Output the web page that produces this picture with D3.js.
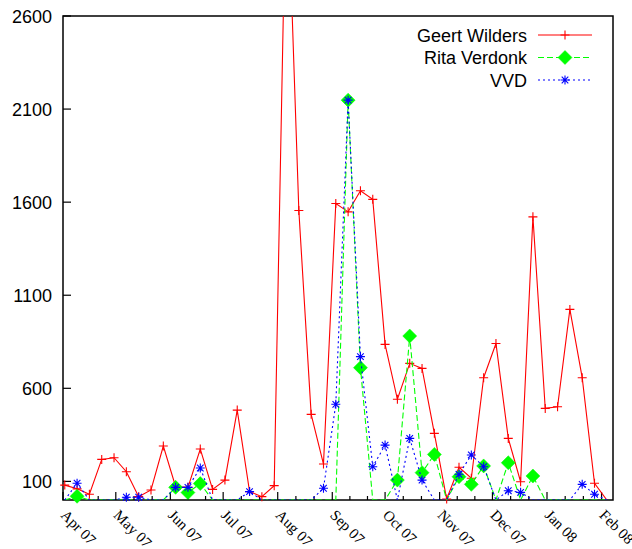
<!DOCTYPE html>
<html lang="en">
<head>
<meta charset="UTF-8">
<title>Geert Wilders / Rita Verdonk / VVD</title>
<script src="https://d3js.org/d3.v7.min.js"></script>
<style>
  body { margin: 0; background: #fff; }
  svg { display: block; }
</style>
</head>
<body>
<div id="chart"></div>
<script>
// weekly series, first week starts Mon 2 Apr 2007
const firstWeek = new Date(2007, 3, 2);
const wilders = [80, 60, 31, 218, 227, 152, 18, 54, 290, 71, 68, 274, 57, 107, 483, 45, 18, 77, 3500, 1555,
  460, 193, 1593, 1548, 1661, 1615, 836, 541, 734, 707, 358, 5, 176, 117, 657, 841, 331, 98, 1521, 492,
  501, 1024, 657, 90, 0];
const verdonk = [0, 20, 0, 0, 0, 0, 0, 0, 0, 68, 40, 88, 0, 0, 0, 0, 0, 0, 0, 0,
  0, 0, 0, 2148, 711, 0, 0, 107, 881, 147, 245, 0, 125, 84, 183, 0, 200, 0, 129, 0,
  0, 0, 0, 0, 0];
const vvd = [0, 90, 0, 0, 0, 15, 15, 0, 0, 68, 68, 172, 0, 0, 0, 45, 0, 0, 0, 0,
  0, 63, 514, 2148, 770, 179, 295, 0, 331, 107, 0, 0, 138, 242, 179, 0, 50, 41, 0, 0,
  0, 0, 84, 31, 0];
const seriesNames = ["Geert Wilders", "Rita Verdonk", "VVD"];
const monthLabels = ["Apr 07", "May 07", "Jun 07", "Jul 07", "Aug 07", "Sep 07", "Oct 07", "Nov 07", "Dec 07", "Jan 08", "Feb 08"];
const yTicks = [100, 600, 1100, 1600, 2100, 2600];

const W = 632, H = 549;
const m = { left: 63, right: 613, top: 16, bottom: 500 };

const svg = d3.select("#chart").append("svg")
  .attr("width", W).attr("height", H);
svg.append("rect").attr("width", W).attr("height", H).attr("fill", "#fff");

const x = d3.scaleTime()
  .domain([new Date(2007, 3, 1), new Date(2008, 1, 7, 12)])
  .range([m.left, m.right]);
const y = d3.scaleLinear().domain([0, 2600]).range([m.bottom, m.top]);

const weeks = wilders.map((_, i) => d3.timeDay.offset(firstWeek, 7 * i));
const monthTicks = d3.timeMonth.range(new Date(2007, 3, 1), new Date(2008, 1, 2));

// minor ticks: thirds of each month
const minorTicks = [];
monthTicks.forEach(mt => {
  const next = d3.timeMonth.offset(mt, 1);
  [1, 2].forEach(k => {
    const t = new Date(+mt + (next - mt) * k / 3);
    if (x(t) < m.right) minorTicks.push(t);
  });
});

svg.append("defs").append("clipPath").attr("id", "plot")
  .append("rect").attr("x", m.left).attr("y", m.top)
  .attr("width", m.right - m.left).attr("height", m.bottom - m.top);

// border
svg.append("rect")
  .attr("x", m.left).attr("y", m.top)
  .attr("width", m.right - m.left).attr("height", m.bottom - m.top)
  .attr("fill", "none").attr("stroke", "#000").attr("stroke-width", 1.5);

// x ticks (inward) and rotated labels
const xAxis = svg.append("g");
xAxis.selectAll("line.major").data(monthTicks).enter().append("line")
  .attr("class", "major")
  .attr("x1", d => x(d)).attr("x2", d => x(d))
  .attr("y1", m.bottom).attr("y2", m.bottom - 8)
  .attr("stroke", "#000").attr("stroke-width", 1.2);
xAxis.selectAll("line.minor").data(minorTicks).enter().append("line")
  .attr("class", "minor")
  .attr("x1", d => x(d)).attr("x2", d => x(d))
  .attr("y1", m.bottom).attr("y2", m.bottom - 4)
  .attr("stroke", "#000").attr("stroke-width", 1.2);
xAxis.selectAll("text").data(monthTicks).enter().append("text")
  .attr("transform", d => `translate(${x(d) - 3},${m.bottom + 16}) rotate(45)`)
  .attr("font-family", "'Liberation Serif', 'Times New Roman', serif")
  .attr("font-size", 15)
  .attr("fill", "#000")
  .text((d, i) => monthLabels[i]);

// y ticks
const yAxis = svg.append("g");
yAxis.selectAll("line").data(yTicks).enter().append("line")
  .attr("x1", m.left).attr("x2", m.left + 8)
  .attr("y1", d => y(d)).attr("y2", d => y(d))
  .attr("stroke", "#000").attr("stroke-width", 1.2);
yAxis.selectAll("text").data(yTicks).enter().append("text")
  .attr("x", 52).attr("y", d => y(d) + 6.5)
  .attr("text-anchor", "end")
  .attr("font-family", "'Liberation Sans', Arial, sans-serif")
  .attr("font-size", 18)
  .attr("fill", "#000")
  .text(d => d);

// marker shapes
const plus = "M-4.5,0H4.5M0,-4.5V4.5";
const star = "M-4.5,0H4.5M0,-4.5V4.5M-3.3,-3.3L3.3,3.3M-3.3,3.3L3.3,-3.3";
const diamond = "M0,-7L7,0L0,7L-7,0Z";

const series = [
  { name: seriesNames[0], values: wilders, color: "#ff0000", dash: null, mark: plus, filled: false },
  { name: seriesNames[1], values: verdonk, color: "#00ff00", dash: "6,3", mark: diamond, filled: true },
  { name: seriesNames[2], values: vvd, color: "#0000ff", dash: "2,3", mark: star, filled: false }
];

const line = d3.line().x(d => x(d.date)).y(d => y(d.v));

series.forEach(s => {
  const pts = s.values.map((v, i) => ({ date: weeks[i], v }));
  svg.append("path")
    .datum(pts)
    .attr("clip-path", "url(#plot)")
    .attr("d", line)
    .attr("fill", "none")
    .attr("stroke", s.color)
    .attr("stroke-width", 1.1)
    .attr("stroke-dasharray", s.dash);
  // zero-valued weeks have no symbol (clipped on the border)
  svg.append("g").selectAll("path")
    .data(pts.filter(p => p.v > 0 && p.v <= 2600))
    .enter().append("path")
    .attr("transform", p => `translate(${x(p.date)},${y(p.v)})`)
    .attr("d", s.mark)
    .attr("fill", s.filled ? s.color : "none")
    .attr("stroke", s.color)
    .attr("stroke-width", s.filled ? 0.5 : 1.1);
});

// legend
const legend = svg.append("g");
series.forEach((s, i) => {
  const cy = 35 + i * 22.5;
  legend.append("text")
    .attr("x", 527).attr("y", cy + 6.5)
    .attr("text-anchor", "end")
    .attr("font-family", "'Liberation Sans', Arial, sans-serif")
    .attr("font-size", 18)
    .attr("fill", "#000")
    .text(s.name);
  legend.append("line")
    .attr("x1", 538).attr("x2", 592)
    .attr("y1", cy).attr("y2", cy)
    .attr("stroke", s.color).attr("stroke-width", 1.1)
    .attr("stroke-dasharray", s.dash);
  legend.append("path")
    .attr("transform", `translate(565,${cy})`)
    .attr("d", s.mark)
    .attr("fill", s.filled ? s.color : "none")
    .attr("stroke", s.color)
    .attr("stroke-width", s.filled ? 0.5 : 1.1);
});
</script>
</body>
</html>
